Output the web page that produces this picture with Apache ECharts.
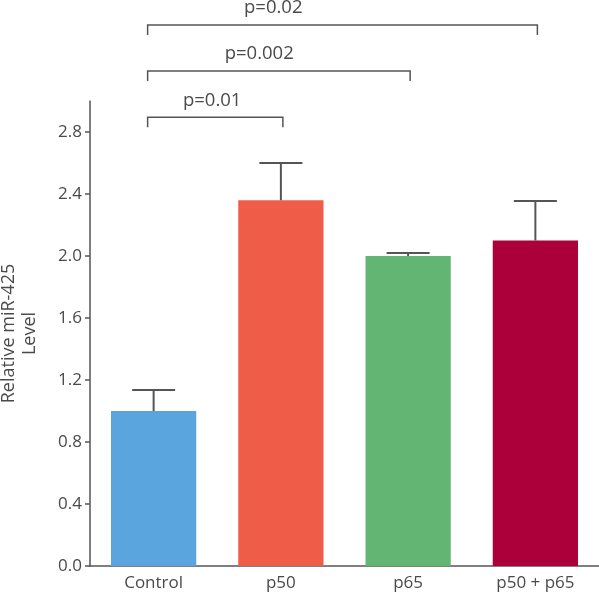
<!DOCTYPE html>
<html>
<head>
<meta charset="utf-8">
<script src="https://cdn.jsdelivr.net/npm/echarts@6/dist/echarts.min.js"></script>
<style>html,body{margin:0;padding:0;background:#fff}#c{width:599px;height:600px}</style>
</head>
<body>
<div id="c"></div>
<script>
// ---- data ----
var categories = ['Control', 'p50', 'p65', 'p50 + p65'];
var means = [1.0, 2.36, 2.0, 2.10];
var upperErrors = [0.135, 0.24, 0.02, 0.255];
var barColors = ['#5aa5dd', '#ef5c48', '#62b573', '#ac003b'];
var yTicks = [0.0, 0.4, 0.8, 1.2, 1.6, 2.0, 2.4, 2.8];
// significance brackets: [from category index, to category index, level, label]
var bracketFrom = [0, 0, 0];
var bracketTo = [1, 2, 3];
var bracketLevel = [2.895, 3.194, 3.49];
var bracketLabels = ['p=0.01', 'p=0.002', 'p=0.02'];
// label anchor along bracket, in category units from the left end (layout)
var bracketLabelPos = [0.46, 0.83, 0.94];

var FONT = '"Open Sans", "Noto Sans", sans-serif';
var TXT = '#4a4a4a';
var AX = '#555555';

var chart = echarts.init(document.getElementById('c'), null, {renderer: 'canvas'});

var errData = categories.map(function (c, i) { return [i, means[i], means[i] + upperErrors[i]]; });
var brData = bracketLabels.map(function (l, i) {
  return [bracketFrom[i], bracketTo[i], bracketLevel[i], bracketLabelPos[i]];
});

chart.setOption({
  animation: false,
  backgroundColor: '#fff',
  grid: {left: 90, right: 0, top: 101, bottom: 34, containLabel: false, outerBoundsMode: 'none'},
  xAxis: {
    type: 'category',
    data: categories,
    boundaryGap: true,
    axisLine: {lineStyle: {color: AX, width: 1.5}},
    axisTick: {alignWithLabel: true, length: 5, lineStyle: {color: AX, width: 1.5}},
    axisLabel: {color: TXT, fontFamily: FONT, fontSize: 17, margin: 9}
  },
  yAxis: {
    type: 'value',
    min: 0, max: 3.0, interval: 0.4,
    name: 'Relative miR-425\nLevel',
    nameLocation: 'middle',
    nameRotate: 90,
    nameGap: 50,
    nameTextStyle: {color: TXT, fontFamily: FONT, fontSize: 18, lineHeight: 21},
    axisLine: {show: true, lineStyle: {color: AX, width: 1.5}},
    axisTick: {show: true, length: 5, lineStyle: {color: AX, width: 1.5},
      customValues: yTicks},
    axisLabel: {color: TXT, fontFamily: FONT, fontSize: 17, margin: 8,
      customValues: yTicks,
      formatter: function (v) { return v.toFixed(1); }},
    splitLine: {show: false}
  },
  series: [
    {
      type: 'bar',
      data: means.map(function (v, i) { return {value: v, itemStyle: {color: barColors[i]}}; }),
      barWidth: '67%',
      z: 2
    },
    {
      type: 'custom',
      data: errData,
      z: 3,
      renderItem: function (params, api) {
        var x = api.value(0);
        var lo = api.coord([x, api.value(1)]);
        var hi = api.coord([x, api.value(2)]);
        var half = 21.5;
        var st = {stroke: '#555', lineWidth: 2};
        return {type: 'group', children: [
          {type: 'line', shape: {x1: lo[0], y1: lo[1], x2: hi[0], y2: hi[1]}, style: st},
          {type: 'line', shape: {x1: hi[0] - half, y1: hi[1], x2: hi[0] + half, y2: hi[1]}, style: st}
        ]};
      }
    },
    {
      type: 'custom',
      data: brData,
      clip: false,
      z: 4,
      renderItem: function (params, api) {
        var a = api.coord([api.value(0), api.value(2)]);
        var b = api.coord([api.value(1), api.value(2)]);
        var lx = a[0] - 6, rx = b[0] + 2, y = a[1];
        var w = api.size([1, 0])[0];
        var tx = a[0] + api.value(3) * w;
        var st = {stroke: '#555', lineWidth: 1.5, fill: null};
        return {type: 'group', children: [
          {type: 'polyline', shape: {points: [[lx, y + 10], [lx, y], [rx, y], [rx, y + 10]]}, style: st},
          {type: 'text', style: {x: tx, y: y - 17, text: bracketLabels[params.dataIndex],
            fill: TXT, font: '18.5px ' + FONT, textAlign: 'center', textVerticalAlign: 'middle'}}
        ]};
      }
    }
  ]
});
</script>
</body>
</html>
